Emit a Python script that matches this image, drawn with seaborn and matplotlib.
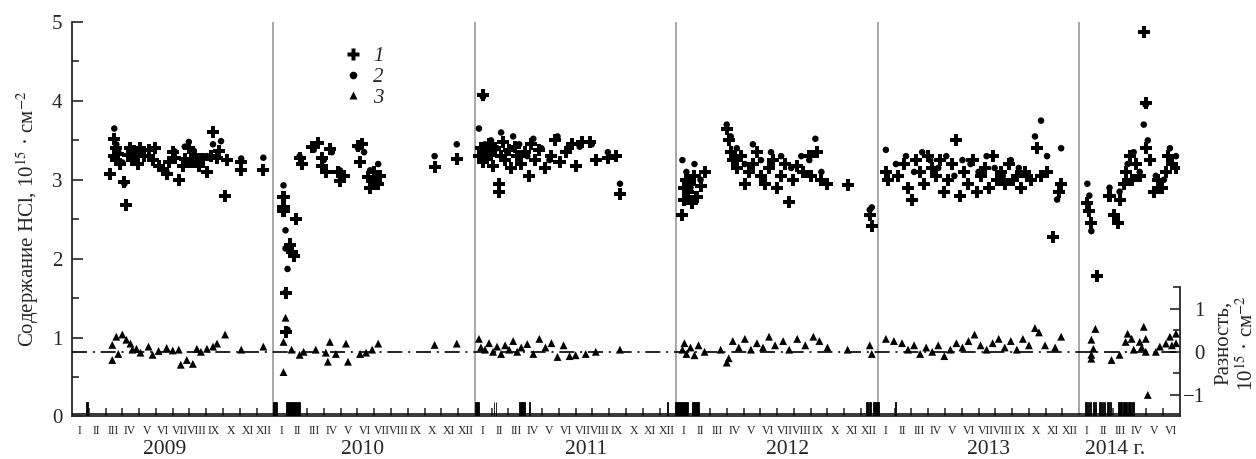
import numpy as np
import pandas as pd
import seaborn as sns
import matplotlib.pyplot as plt
from matplotlib.lines import Line2D
from matplotlib.ticker import FixedLocator


################################################################################
# data (time in decimal years)

# series 1 (+), HCl column, 10^15 cm^-2
plus_t = [2009.19, 2009.21, 2009.21, 2009.22, 2009.22, 2009.23, 2009.24, 2009.26, 2009.27, 2009.28,
          2009.29, 2009.30, 2009.31, 2009.33, 2009.34, 2009.36, 2009.38, 2009.40, 2009.41, 2009.43,
          2009.45, 2009.47, 2009.48, 2009.50, 2009.51, 2009.53, 2009.55, 2009.56, 2009.58, 2009.59,
          2009.61, 2009.63, 2009.65, 2009.67, 2009.69, 2009.70, 2009.72, 2009.73, 2009.76, 2009.77,
          2009.84, 2009.84, 2009.95,
          2010.05, 2010.05, 2010.05, 2010.06, 2010.06, 2010.08, 2010.09, 2010.10, 2010.11, 2010.13,
          2010.14, 2010.19, 2010.22, 2010.24, 2010.24, 2010.26, 2010.28, 2010.32, 2010.33, 2010.35,
          2010.42, 2010.43, 2010.44, 2010.47, 2010.48, 2010.50, 2010.51, 2010.52, 2010.53, 2010.80,
          2010.91,
          2011.04, 2011.02, 2011.03, 2011.04, 2011.05, 2011.06, 2011.07, 2011.08, 2011.09, 2011.10,
          2011.12, 2011.12, 2011.13, 2011.14, 2011.15, 2011.17, 2011.18, 2011.20, 2011.21, 2011.23,
          2011.25, 2011.27, 2011.28, 2011.30, 2011.32, 2011.35, 2011.38, 2011.40, 2011.42, 2011.45,
          2011.48, 2011.50, 2011.53, 2011.57, 2011.60, 2011.66, 2011.70, 2011.72,
          2012.03, 2012.04, 2012.04, 2012.05, 2012.06, 2012.07, 2012.08, 2012.09, 2012.10, 2012.12,
          2012.14, 2012.25, 2012.26, 2012.27, 2012.28, 2012.30, 2012.32, 2012.34, 2012.36, 2012.38,
          2012.40, 2012.42, 2012.44, 2012.46, 2012.48, 2012.50, 2012.52, 2012.54, 2012.56, 2012.58,
          2012.60, 2012.63, 2012.66, 2012.67, 2012.70, 2012.72, 2012.75, 2012.85, 2012.96, 2012.97,
          2013.04, 2013.05, 2013.10, 2013.13, 2013.15, 2013.17, 2013.19, 2013.21, 2013.23, 2013.25,
          2013.27, 2013.29, 2013.31, 2013.33, 2013.35, 2013.37, 2013.39, 2013.41, 2013.43, 2013.45,
          2013.47, 2013.49, 2013.51, 2013.53, 2013.55, 2013.57, 2013.59, 2013.61, 2013.63, 2013.65,
          2013.67, 2013.69, 2013.71, 2013.73, 2013.76, 2013.79, 2013.81, 2013.84, 2013.87, 2013.90,
          2013.91,
          2014.04, 2014.05, 2014.06, 2014.09, 2014.15, 2014.17, 2014.19, 2014.20, 2014.22, 2014.23,
          2014.25, 2014.26, 2014.28, 2014.30, 2014.32, 2014.33, 2014.33, 2014.35, 2014.37, 2014.39,
          2014.41, 2014.43, 2014.44, 2014.46, 2014.48]
plus_v = [3.07, 3.30, 3.52, 3.40, 3.25, 3.33, 3.20, 2.97, 2.68, 3.32,
          3.40, 3.25, 3.36, 3.20, 3.40, 3.30, 3.38, 3.25, 3.40, 3.18,
          3.12, 3.08, 3.22, 3.35, 3.28, 3.00, 3.18, 3.27, 3.40, 3.22,
          3.32, 3.18, 3.26, 3.10, 3.30, 3.60, 3.28, 3.36, 2.79, 3.25,
          3.13, 3.23, 3.13,
          2.78, 2.66, 2.60, 1.07, 1.57, 2.18, 2.09, 2.03, 2.50, 3.28,
          3.20, 3.41, 3.47, 3.28, 3.17, 3.10, 3.39, 3.10, 2.98, 3.05,
          3.43, 3.23, 3.45, 3.03, 2.90, 3.10, 3.00, 2.95, 3.05, 3.16,
          3.26,
          4.08, 3.30, 3.40, 3.22, 3.35, 3.28, 3.45, 3.32, 3.18, 3.40,
          2.85, 2.95, 3.30, 3.48, 3.25, 3.38, 3.15, 3.42, 3.30, 3.20,
          3.35, 3.05, 3.45, 3.25, 3.38, 3.15, 3.30, 3.50, 3.22, 3.35,
          3.45, 3.18, 3.48, 3.48, 3.25, 3.28, 3.30, 2.82,
          2.56, 2.75, 2.90, 3.00, 2.85, 2.95, 2.70, 3.05, 2.78, 2.92,
          3.10, 3.65, 3.50, 3.35, 3.25, 3.15, 3.30, 2.95, 3.10, 3.20,
          3.35, 3.05, 2.95, 3.15, 3.25, 2.90, 3.05, 3.20, 2.72, 3.00,
          3.18, 3.10, 3.30, 3.05, 3.35, 3.00, 2.95, 2.93, 2.55, 2.42,
          3.10, 3.00, 3.05, 3.20, 2.90, 2.75, 3.25, 3.10, 2.95, 3.30,
          3.15, 3.05, 3.25, 2.85, 3.00, 3.20, 3.50, 2.80, 3.10, 2.95,
          3.25, 2.85, 3.05, 3.15, 2.90, 3.30, 3.00, 3.10, 2.95, 3.20,
          3.00, 3.05, 2.90, 3.10, 3.00, 3.40, 3.05, 3.10, 2.27, 2.85,
          2.95,
          2.70, 2.60, 2.45, 1.78, 2.80, 2.55, 2.45, 2.75, 2.95, 3.10,
          3.30, 3.00, 3.20, 3.05, 4.87, 3.97, 3.40, 3.25, 2.85, 3.00,
          2.90, 3.10, 3.30, 3.20, 3.15]

# series 2 (circles)
dot_t = [2009.21, 2009.22, 2009.23, 2009.25, 2009.26, 2009.29, 2009.32, 2009.35, 2009.39, 2009.44,
         2009.47, 2009.51, 2009.56, 2009.58, 2009.60, 2009.64, 2009.67, 2009.70, 2009.74, 2009.84,
         2009.95,
         2010.05, 2010.06, 2010.06, 2010.07, 2010.06, 2010.07, 2010.13, 2010.20, 2010.25, 2010.29,
         2010.33, 2010.42, 2010.45, 2010.48, 2010.52, 2010.80, 2010.91,
         2011.02, 2011.04, 2011.05, 2011.08, 2011.11, 2011.13, 2011.16, 2011.19, 2011.22, 2011.26,
         2011.29, 2011.33, 2011.37, 2011.41, 2011.46, 2011.52, 2011.58, 2011.66, 2011.72,
         2012.03, 2012.05, 2012.07, 2012.09, 2012.12, 2012.25, 2012.27, 2012.30, 2012.34, 2012.38,
         2012.42, 2012.47, 2012.52, 2012.57, 2012.62, 2012.66, 2012.69, 2012.72, 2012.96, 2012.97,
         2013.04, 2013.09, 2013.14, 2013.18, 2013.22, 2013.26, 2013.30, 2013.34, 2013.38, 2013.42,
         2013.46, 2013.50, 2013.54, 2013.58, 2013.62, 2013.66, 2013.70, 2013.74, 2013.78, 2013.81,
         2013.84, 2013.89, 2013.91,
         2014.04, 2014.05, 2014.06, 2014.15, 2014.20, 2014.24, 2014.27, 2014.30, 2014.32, 2014.33,
         2014.34, 2014.38, 2014.42, 2014.45, 2014.48]
dot_v = [3.65, 3.45, 3.35, 3.22, 2.95, 3.38, 3.30, 3.34, 3.28, 3.15,
         3.10, 3.36, 3.42, 3.48, 3.38, 3.22, 3.30, 3.45, 3.49, 3.27,
         3.28,
         2.93, 2.36, 2.13, 1.87, 1.57, 1.10, 3.30, 3.38, 3.25, 3.35,
         3.12, 3.40, 3.35, 3.12, 3.20, 3.30, 3.45,
         3.65, 4.05, 3.45, 3.50, 3.40, 3.60, 3.35, 3.55, 3.45, 3.30,
         3.52, 3.40, 3.25, 3.55, 3.40, 3.42, 3.45, 3.35, 2.95,
         3.25, 3.10, 2.90, 3.20, 3.00, 3.70, 3.55, 3.40, 3.20, 3.45,
         3.25, 3.35, 3.30, 3.15, 3.30, 3.25, 3.52, 3.10, 2.62, 2.65,
         3.38, 3.20, 3.30, 3.10, 3.35, 3.25, 3.15, 3.30, 3.05, 3.25,
         3.20, 3.10, 3.30, 3.15, 3.05, 3.25, 3.15, 3.05, 3.55, 3.75,
         3.30, 2.75, 3.40,
         2.95, 2.80, 2.35, 2.90, 2.85, 3.20, 3.35, 3.10, 3.70, 3.95,
         3.50, 3.05, 3.00, 3.40, 3.30]

# series 3 (triangles), difference, right axis
tri_t = [2009.20, 2009.20, 2009.22, 2009.23, 2009.25, 2009.27, 2009.29, 2009.30, 2009.32, 2009.34,
         2009.38, 2009.40, 2009.43, 2009.47, 2009.50, 2009.53, 2009.54, 2009.57, 2009.60, 2009.62,
         2009.64, 2009.67, 2009.70, 2009.72, 2009.76, 2009.84, 2009.95,
         2010.06, 2010.05, 2010.05, 2010.09, 2010.13, 2010.15, 2010.21, 2010.26, 2010.28, 2010.27,
         2010.31, 2010.36, 2010.37, 2010.43, 2010.46, 2010.49, 2010.52, 2010.80, 2010.91,
         2011.02, 2011.03, 2011.05, 2011.07, 2011.09, 2011.11, 2011.13, 2011.15, 2011.17, 2011.19,
         2011.21, 2011.23, 2011.26, 2011.29, 2011.32, 2011.35, 2011.38, 2011.41, 2011.44, 2011.47,
         2011.50, 2011.55, 2011.60, 2011.72,
         2012.03, 2012.04, 2012.05, 2012.07, 2012.09, 2012.11, 2012.14, 2012.22, 2012.25, 2012.26,
         2012.28, 2012.31, 2012.34, 2012.37, 2012.40, 2012.43, 2012.46, 2012.49, 2012.53, 2012.56,
         2012.60, 2012.64, 2012.68, 2012.71, 2012.75, 2012.85, 2012.96, 2012.97,
         2013.04, 2013.08, 2013.12, 2013.15, 2013.18, 2013.21, 2013.24, 2013.27, 2013.30, 2013.33,
         2013.36, 2013.39, 2013.42, 2013.45, 2013.48, 2013.51, 2013.54, 2013.57, 2013.60, 2013.63,
         2013.66, 2013.69, 2013.72, 2013.75, 2013.78, 2013.80, 2013.83, 2013.88, 2013.91,
         2014.08, 2014.06, 2014.07, 2014.06, 2014.06, 2014.16, 2014.20, 2014.23, 2014.24, 2014.26,
         2014.27, 2014.30, 2014.31, 2014.32, 2014.33, 2014.33, 2014.34, 2014.38, 2014.40, 2014.43,
         2014.45, 2014.46, 2014.48, 2014.48]
tri_v = [0.16, -0.19, 0.35, -0.05, 0.40, 0.28, 0.19, 0.05, 0.07, -0.02,
         0.12, -0.07, 0.02, 0.09, 0.03, 0.05, -0.30, -0.19, -0.28, 0.07,
         0.00, 0.07, 0.12, 0.19, 0.40, 0.05, 0.12,
         0.79, 0.23, -0.47, 0.05, -0.07, 0.00, 0.05, -0.02, 0.23, -0.23,
         -0.05, 0.19, -0.23, -0.05, -0.02, 0.05, 0.19, 0.16, 0.19,
         0.30, 0.10, 0.05, 0.20, 0.00, 0.12, -0.05, 0.15, 0.05, 0.25,
         0.00, 0.10, 0.18, -0.05, 0.30, 0.10, 0.20, -0.12, 0.15, -0.10,
         -0.08, -0.05, 0.00, 0.05,
         0.05, 0.20, -0.05, 0.10, -0.08, 0.15, 0.00, 0.05, -0.25, -0.15,
         0.25, 0.10, 0.30, 0.05, 0.20, 0.10, 0.35, 0.15, 0.25, 0.05,
         0.30, 0.15, 0.35, 0.25, 0.10, 0.05, 0.15, -0.05,
         0.30, 0.25, 0.20, 0.05, 0.15, -0.05, 0.10, 0.00, 0.15, -0.10,
         0.05, 0.20, 0.10, 0.25, 0.40, 0.15, 0.05, 0.20, 0.30, 0.10,
         0.25, 0.05, 0.30, 0.15, 0.55, 0.45, 0.15, 0.10, 0.35,
         0.53, 0.28, 0.07, -0.07, -0.16, -0.19, -0.07, 0.23, 0.42, 0.30,
         0.05, 0.23, 0.10, 0.58, 0.30, 0.00, -1.00, 0.00, 0.12, 0.19,
         0.35, 0.15, 0.42, 0.20]

# marks along the bottom: start (decimal year) and length (years)
bar_start = [2009.070, 2010.000, 2010.060, 2011.000, 2011.093, 2011.103, 2011.220, 2011.268,
             2011.953, 2011.995, 2012.080, 2012.940, 2012.958, 2012.975, 2013.083,
             2014.030, 2014.042, 2014.054, 2014.066, 2014.078, 2014.100, 2014.112, 2014.124,
             2014.140, 2014.152, 2014.190, 2014.215, 2014.240, 2014.262]
bar_len = [0.008, 0.020, 0.070, 0.020, 0.004, 0.004, 0.030, 0.008,
           0.005, 0.065, 0.030, 0.010, 0.010, 0.030, 0.005,
           0.006, 0.006, 0.006, 0.006, 0.006, 0.006, 0.006, 0.006,
           0.006, 0.006, 0.020, 0.020, 0.018, 0.010]
bar_height = 0.18

years = [2009, 2010, 2011, 2012, 2013, 2014]
year_labels = ["2009", "2010", "2011", "2012", "2013", "2014 г."]
year_label_x = [2009.46, 2010.44, 2011.55, 2012.55, 2013.55, 2014.18]
roman = ["I", "II", "III", "IV", "V", "VI", "VII", "VIII", "IX", "X", "XI", "XII"]

Y_LABEL = "Содержание HCl, 10$^{15}$ · см$^{-2}$"
Y2_LABEL = "Разность,\n10$^{15}$ · см$^{-2}$"


def main():
    sns.set_style("ticks")
    plt.rcParams["font.family"] = ["Liberation Serif", "DejaVu Serif"]
    plt.rcParams["mathtext.fontset"] = "stix"

    fig = plt.figure(figsize=(12.56, 4.59), dpi=100)
    ax = fig.add_axes([0.0573, 0.0926, 0.8822, 0.8594])
    ax2 = ax.twinx()

    t_end = 2014.5
    ax.set_xlim(2009, t_end)
    ax.set_ylim(0, 5)
    # difference axis: -1.5..1.5 occupies 0..1.64 of the left scale
    k = 3 / 1.64
    ax2.set_ylim(-1.5, -1.5 + 5 * k)

    # year separators
    ax.vlines(years[1:], 0, 5, color="#a8a8a8", lw=1.4, zorder=1)

    # zero line of the difference
    ax2.plot([2009, t_end], [0, 0], color="black", lw=1.2,
             ls=(0, (9, 3.5, 1.2, 3.5)), zorder=2)

    # marks at the bottom
    ax.bar(bar_start, bar_height, width=bar_len, align="edge",
           color="black", edgecolor="black", lw=0.6, zorder=3)
    ax.axhline(0.035, color="black", lw=1.1, zorder=3)

    df1 = pd.DataFrame({"t": plus_t, "v": plus_v})
    df2 = pd.DataFrame({"t": dot_t, "v": dot_v})
    df3 = pd.DataFrame({"t": tri_t, "v": tri_v})
    sns.scatterplot(data=df1, x="t", y="v", marker="P", s=75, color="black",
                    edgecolor="none", ax=ax, zorder=4)
    sns.scatterplot(data=df2, x="t", y="v", marker="o", s=22, color="black",
                    edgecolor="none", ax=ax, zorder=5)
    sns.scatterplot(data=df3, x="t", y="v", marker="^", s=32, color="black",
                    edgecolor="none", ax=ax2, zorder=5)

    # left axis
    ax.set_yticks([0, 1, 2, 3, 4, 5])
    ax.yaxis.set_minor_locator(FixedLocator(np.arange(0.5, 5, 1.0)))
    ax.tick_params(axis="y", which="major", direction="in", length=8, width=1.2,
                   labelsize=15, pad=7)
    ax.tick_params(axis="y", which="minor", direction="in", length=5, width=1.2)
    ax.set_ylabel(Y_LABEL, fontsize=15, labelpad=8)
    ax.set_xlabel("")

    # x axis: ticks at month starts, roman numerals at mid month
    starts, mids, labels = [], [], []
    for y in years:
        for m in range(12):
            if y + m / 12 < t_end - 1e-6:
                starts.append(y + m / 12)
                mids.append(y + (m + 0.45) / 12)
                labels.append(roman[m])
    ax.set_xticks(starts[1:])
    ax.set_xticklabels([])
    ax.xaxis.set_minor_locator(FixedLocator(mids))
    ax.set_xticklabels(labels, minor=True)
    ax.tick_params(axis="x", which="major", direction="in", length=6, width=1.1)
    ax.tick_params(axis="x", which="minor", length=0, labelsize=8.5, pad=6)

    for x, lab in zip(year_label_x, year_labels):
        ax.text(x, -0.083, lab, transform=ax.get_xaxis_transform(),
                ha="center", va="center", fontsize=15.5)

    sns.despine(ax=ax, top=True, right=True)
    for s in ("left", "bottom"):
        ax.spines[s].set_linewidth(1.3)

    # right axis
    for s in ("top", "left", "bottom"):
        ax2.spines[s].set_visible(False)
    ax2.spines["right"].set_bounds(-1.5, 1.5)
    ax2.spines["right"].set_linewidth(1.3)
    ax2.set_yticks([-1, 0, 1])
    ax2.set_yticklabels(["\u22121", "0", "1"], ha="right")
    ax2.yaxis.set_minor_locator(FixedLocator([-0.5, 0.5, 1.5]))
    ax2.tick_params(axis="y", which="major", direction="in", length=7, width=1.2,
                    labelsize=15, pad=18)
    ax2.tick_params(axis="y", which="minor", direction="in", length=5, width=1.2)
    ax2.set_ylabel("")
    fig.text(1236 / 1256, (459 - 343) / 459, Y2_LABEL, rotation=90,
             ha="center", va="center", multialignment="center", fontsize=15)

    handles = [Line2D([], [], ls="none", marker="P", ms=8.5, color="black", mec="none"),
               Line2D([], [], ls="none", marker="o", ms=5.5, color="black", mec="none"),
               Line2D([], [], ls="none", marker="^", ms=6, color="black", mec="none")]
    ax.legend(handles, ["1", "2", "3"], loc="upper left", bbox_to_anchor=(0.225, 0.985),
              frameon=False, prop={"style": "italic", "size": 15},
              handletextpad=0.4, labelspacing=0.05, handlelength=1.2)

    fig.savefig("out.png", dpi=100)


main()
